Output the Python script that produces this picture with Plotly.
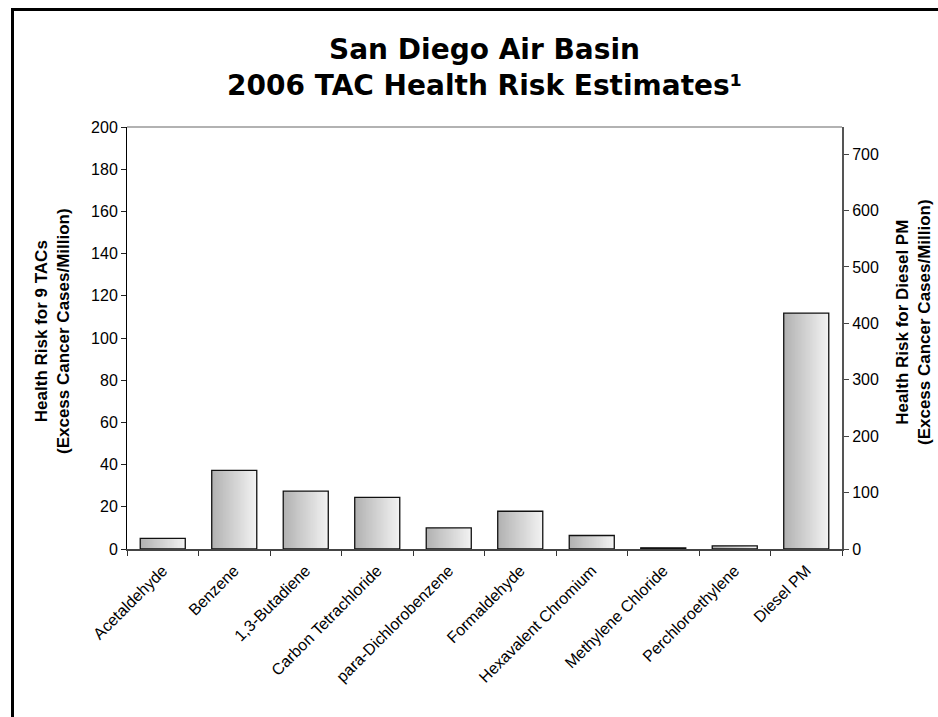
import plotly.graph_objects as go
import numpy as np

categories = ["Acetaldehyde", "Benzene", "1,3-Butadiene", "Carbon Tetrachloride",
              "para-Dichlorobenzene", "Formaldehyde", "Hexavalent Chromium",
              "Methylene Chloride", "Perchloroethylene", "Diesel PM"]
tac_risk = [5.0, 37.3, 27.4, 24.5, 10.0, 17.9, 6.4, 0.5, 1.5, None]
diesel_risk = [None, None, None, None, None, None, None, None, None, 418]

left_ticks = list(range(0, 201, 20))
right_ticks = list(range(0, 701, 100))

left_title = "Health Risk for 9 TACs<br>(Excess Cancer Cases/Million)"
right_title = "Health Risk for Diesel PM<br>(Excess Cancer Cases/Million)"

W, H = 938, 717
ML, MR, MT, MB = 127, 96, 127, 168
PW, PH = W - ML - MR, H - MT - MB

BAR_W = 0.63
N = 32
c0 = np.array([0xb2, 0xb2, 0xb2])
c1 = np.array([0xf2, 0xf2, 0xf2])

fig = go.Figure()
for axis, vals in (("y", tac_risk), ("y2", diesel_risk)):
    step = BAR_W / N
    for k in range(N):
        t = k / (N - 1)
        c = (c0 + (c1 - c0) * t).round().astype(int)
        wdt = step * 1.8 if k < N - 1 else step
        fig.add_trace(go.Bar(
            x=categories, y=vals, yaxis=axis,
            offset=-BAR_W / 2 + k * step, width=wdt,
            marker=dict(color=f"rgb({c[0]},{c[1]},{c[2]})", line=dict(width=0)),
            showlegend=False, hoverinfo="skip"))
    fig.add_trace(go.Bar(
        x=categories, y=vals, yaxis=axis,
        offset=-BAR_W / 2, width=BAR_W,
        marker=dict(color="rgba(0,0,0,0)", line=dict(color="#111", width=1.3)),
        showlegend=False))

tick_font = dict(family="Liberation Sans, Arial, sans-serif", size=16, color="black")
title_font = dict(family="Liberation Sans, Arial, sans-serif", size=17, color="black", weight="bold")

boundaries = [i - 0.5 for i in range(len(categories) + 1)]

px2x = lambda p: (p - ML) / PW
px2y = lambda p: 1 - (p - MT) / PH

fig.update_layout(
    width=W, height=H,
    margin=dict(l=ML, r=MR, t=MT, b=MB, autoexpand=False),
    paper_bgcolor="white", plot_bgcolor="white",
    barmode="overlay",
    title=dict(
        text="San Diego Air Basin<br>2006 TAC Health Risk Estimates¹",
        font=dict(family="DejaVu Sans, sans-serif", size=28, color="black", weight="bold"),
        x=0.5, xref="paper", xanchor="center",
        y=1 - 59 / H, yref="container", yanchor="middle"),
    xaxis=dict(
        type="category", categoryorder="array", categoryarray=categories,
        range=[-0.5, len(categories) - 0.5],
        tickson="boundaries", ticks="outside", ticklen=5, tickcolor="#333",
        showline=True, linecolor="#444", linewidth=2,
        tickangle=-45, ticklabelstandoff=4,
        tickfont=dict(family="Liberation Sans, Arial, sans-serif", size=16, color="black"),
        showgrid=False, zeroline=False),
    xaxis2=dict(
        overlaying="x", anchor="y", side="bottom", type="linear",
        range=[-0.5, len(categories) - 0.5], tickvals=boundaries,
        ticks="inside", ticklen=5, tickcolor="#333",
        showticklabels=False, showgrid=False, zeroline=False, showline=False),
    yaxis=dict(
        range=[0, 200], tickvals=left_ticks,
        ticks="outside", ticklen=5, tickcolor="#222",
        showline=True, linecolor="black", linewidth=1,
        tickfont=tick_font, showgrid=False, zeroline=False),
    yaxis3=dict(
        overlaying="y", anchor="x", side="left",
        range=[0, 200], tickvals=left_ticks,
        ticks="inside", ticklen=5, tickcolor="#222",
        showticklabels=False, showgrid=False, zeroline=False, showline=False),
    yaxis2=dict(
        overlaying="y", side="right", anchor="x",
        range=[0, 748], tickvals=right_ticks,
        ticks="outside", ticklen=5, tickcolor="#444",
        showline=True, linecolor="#555", linewidth=2,
        tickfont=tick_font, showgrid=False, zeroline=False),
    annotations=[
        dict(text=left_title, textangle=-90, showarrow=False, font=title_font,
             xref="paper", yref="paper", x=px2x(52), y=px2y(331),
             xanchor="center", yanchor="middle"),
        dict(text=right_title, textangle=-90, showarrow=False, font=title_font,
             xref="paper", yref="paper", x=px2x(913), y=px2y(322),
             xanchor="center", yanchor="middle"),
    ],
    shapes=[
        dict(type="line", xref="paper", yref="paper", x0=0, x1=1, y0=1, y1=1,
             line=dict(color="#999", width=1.5)),
        dict(type="line", xref="paper", yref="paper",
             x0=px2x(11), x1=px2x(W + 5), y0=px2y(9.5), y1=px2y(9.5),
             line=dict(color="black", width=3)),
        dict(type="line", xref="paper", yref="paper",
             x0=px2x(12.5), x1=px2x(12.5), y0=px2y(8), y1=px2y(H + 5),
             line=dict(color="black", width=3)),
    ],
)

fig.write_html("out.html", config={"displayModeBar": False},
               post_script="document.body.style.margin='0';document.body.style.overflow='hidden';")
